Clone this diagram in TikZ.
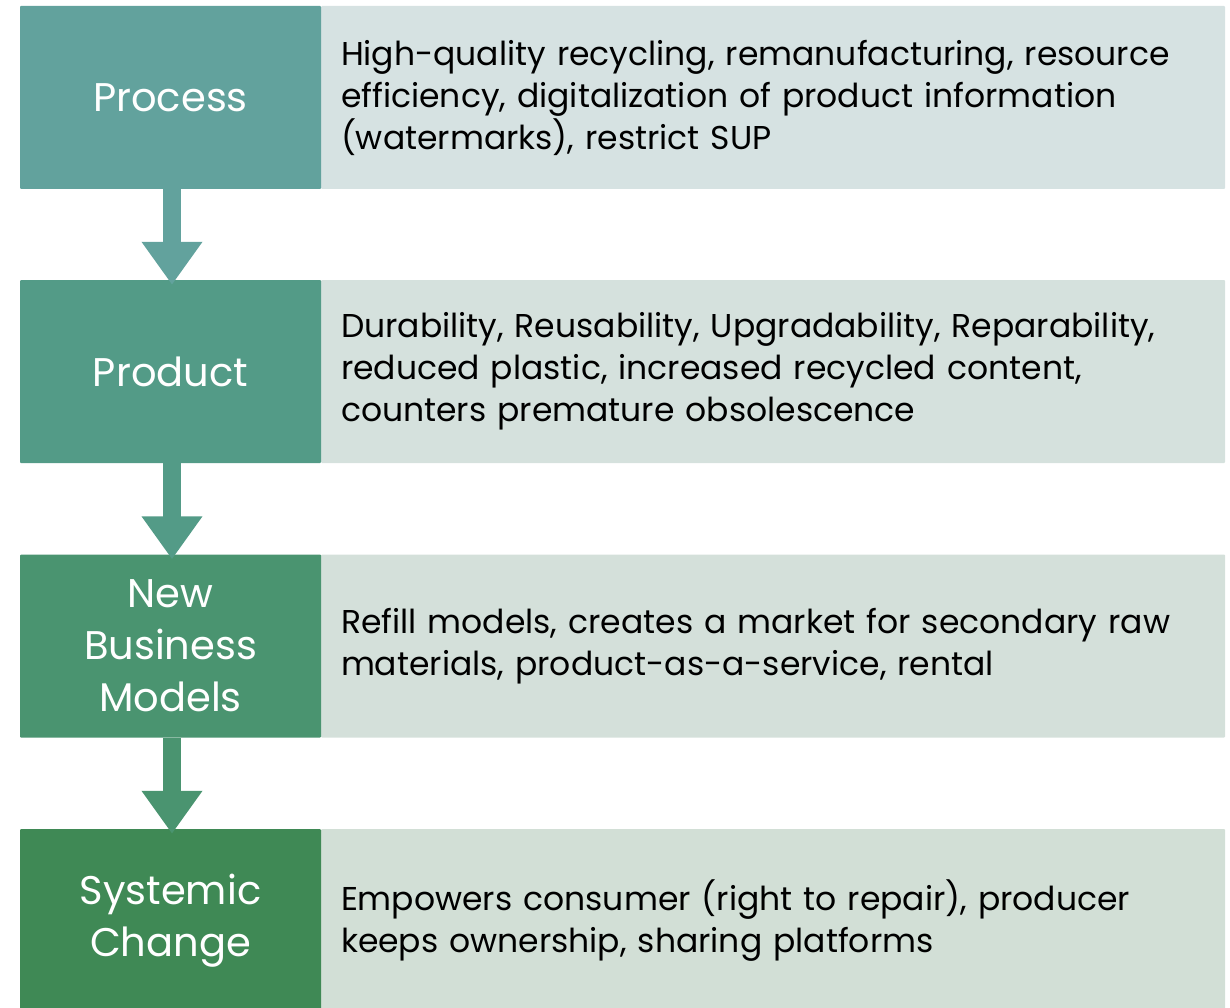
\documentclass[tikz,border=0pt]{standalone}
\usepackage{fontspec}
\setmainfont{Poppins}
\usetikzlibrary{arrows.meta}
\definecolor{cA}{HTML}{62A29D}
\definecolor{cB}{HTML}{539B87}
\definecolor{cC}{HTML}{4A9470}
\definecolor{cD}{HTML}{3F8955}
\definecolor{rA}{HTML}{D6E2E2}
\definecolor{rB}{HTML}{D5E1DD}
\definecolor{rC}{HTML}{D4E0DA}
\definecolor{rD}{HTML}{D2DFD6}
\tikzset{
  lbox/.style={rectangle, minimum width=301pt, minimum height=183pt, inner sep=0pt,
    text=white, align=center, font=\fontsize{40}{52}\selectfont, rounded corners=1pt},
  rbox/.style={rectangle, minimum width=904pt, minimum height=183pt, inner xsep=20pt,
    text width=864pt, align=left, text=black, font=\fontsize{33}{42}\selectfont, rounded corners=1pt},
  flowarrow/.style={line width=18pt, -{Triangle[width=58pt,length=43pt]}}
}
\begin{document}
\begin{tikzpicture}[x=1pt,y=1pt]
\useasboundingbox (0,0) rectangle (1230,-1008);
\clip (0,0) rectangle (1230,-1008);
\node[rbox, fill=rA] (r1) at (773,-97.5) {High-quality recycling, remanufacturing, resource\\efficiency, digitalization of product information\\(watermarks), restrict SUP};
\node[rbox, fill=rB] (r2) at (773,-371.5) {Durability, Reusability, Upgradability, Reparability,\\reduced plastic, increased recycled content,\\counters premature obsolescence};
\node[rbox, fill=rC] (r3) at (773,-646) {Refill models, creates a market for secondary raw\\materials, product-as-a-service, rental};
\node[rbox, fill=rD] (r4) at (773,-920.5) {Empowers consumer (right to repair), producer\\keeps ownership, sharing platforms};
\node[lbox, fill=cA] (l1) at (170.5,-97.5) {Process};
\node[lbox, fill=cB] (l2) at (170.5,-371.5) {Product};
\node[lbox, fill=cC] (l3) at (170.5,-646) {New\\Business\\Models};
\node[lbox, fill=cD] (l4) at (170.5,-920.5) {Systemic\\Change};
\draw[flowarrow, cA] ([xshift=1.5pt]l1.south) -- ([xshift=1.5pt,yshift=-5pt]l2.north);
\draw[flowarrow, cB] ([xshift=1.5pt]l2.south) -- ([xshift=1.5pt,yshift=-5pt]l3.north);
\draw[flowarrow, cC] ([xshift=1.5pt]l3.south) -- ([xshift=1.5pt,yshift=-5pt]l4.north);
\end{tikzpicture}
\end{document}
